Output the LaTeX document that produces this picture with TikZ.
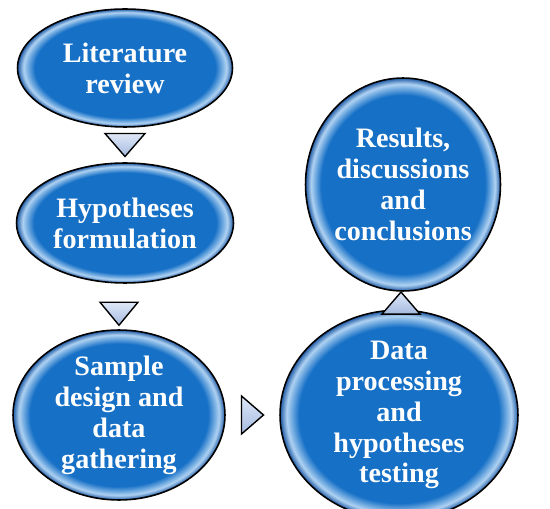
\documentclass[tikz,border=0pt]{standalone}
\usepackage{fontspec}
\setmainfont{Liberation Serif}
\usetikzlibrary{positioning, shapes.geometric, calc}
\definecolor{stageblue}{RGB}{22,112,198}
\definecolor{stagerim}{RGB}{175,210,242}
\definecolor{stageedge}{RGB}{30,90,165}
\definecolor{tritop}{RGB}{222,231,247}
\definecolor{tribot}{RGB}{165,186,224}
\pgfdeclareradialshading{glossy}{\pgfpoint{0bp}{0bp}}{color(0bp)=(stageblue); color(21bp)=(stageblue); color(23.6bp)=(stagerim); color(25bp)=(stageedge); color(50bp)=(stageedge)}
\tikzset{
    stage/.style={ellipse, draw=black, line width=0.9pt, shade, shading=glossy, text=white, font=\fontsize{16}{17.6}\selectfont\bfseries, align=center, inner sep=0pt},
    tri/.style={draw=black, line width=0.8pt, line join=miter, top color=tritop, bottom color=tribot}
}
\begin{document}
\begin{tikzpicture}[x=0.02cm, y=-0.02cm]
    \useasboundingbox (0,0) rectangle (550,509);
    % Stages
    \node[stage, minimum width=4.3cm, minimum height=2.36cm] (lit) at (125,68) {Literature\\review};
    \node[stage, minimum width=4.34cm, minimum height=2.4cm] (hyp) at (125,223) {Hypotheses\\formulation};
    \node[stage, minimum width=4.24cm, minimum height=3.4cm] (sam) at (119,415) {Sample\\design and\\data\\gathering};
    \node[stage, minimum width=4.76cm, minimum height=3.48cm] (dat) at (399,415) {Data\\processing\\and\\hypotheses\\testing};
    \node[stage, minimum width=3.9cm, minimum height=4.26cm] (res) at (403,184.5) {Results,\\discussions\\and\\conclusions};

    % Triangles between the stages
    \path (lit.south) -- (hyp.north) coordinate[midway] (m1);
    \draw[tri] ($(m1)+(-20,-11.5)$) -- ($(m1)+(20,-11.5)$) -- ($(m1)+(0,11.5)$) -- cycle;
    \coordinate (m2) at ($(sam.north)+(0,-4)$);
    \draw[tri] ($(m2)+(-19,-23)$) -- ($(m2)+(19,-23)$) -- (m2) -- cycle;
    \path (sam.east) -- (dat.west) coordinate[midway] (m3);
    \draw[tri] ($(m3)+(-11,-19)$) -- ($(m3)+(11,0)$) -- ($(m3)+(-11,19)$) -- cycle;
    \path (dat.north) -- (res.south) coordinate[midway] (m4);
    \draw[tri] ($(m4)+(-19,13.5)$) -- ($(m4)+(19,13.5)$) -- ($(m4)+(0,-8.5)$) -- cycle;
\end{tikzpicture}
\end{document}
